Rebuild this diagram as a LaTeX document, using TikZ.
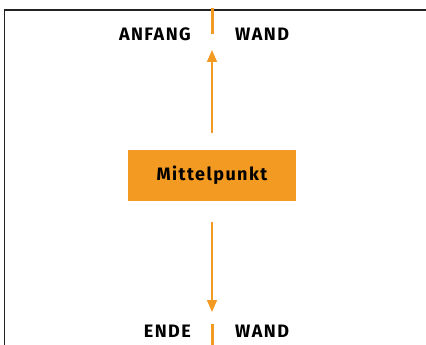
\documentclass[tikz,border=0pt]{standalone}
\usepackage{fontspec}
\setmainfont{Fira Sans}
\newfontfamily\lblfont[LetterSpace=8]{Fira Sans}
\usetikzlibrary{arrows.meta}
\definecolor{orng}{HTML}{F39A22}
\definecolor{frm}{HTML}{222222}
\begin{document}
\begin{tikzpicture}[x=1pt,y=-1pt,
  lbl/.style={font=\lblfont\bfseries\fontsize{18}{21}\selectfont, text=black, inner sep=0pt},
  box/.style={fill=orng, minimum width=168pt, minimum height=51pt, inner sep=0pt, font=\lblfont\bfseries\fontsize{18}{21}\selectfont},
  arr/.style={draw=orng, line width=1.4pt, -{Triangle[length=12pt,width=10pt]}},
  wall/.style={draw=orng, line width=3pt}]
\useasboundingbox (0,0) rectangle (426,345);
\draw[frm, line width=1.5pt] (4.5,345) -- (4.5,10) -- (426,10);
\node[box] (mid) at (212,175.5) {Mittelpunkt};
\coordinate (wt1) at (212,8);
\coordinate (wt2) at (212,34);
\coordinate (wb1) at (212,324);
\coordinate (wb2) at (212,345);
\coordinate (at) at (212,50);
\coordinate (ab) at (212,312);
\coordinate (as) at (212,133);
\coordinate (ae) at (212,222);
\draw[wall] (wt1) -- (wt2);
\draw[wall] (wb1) -- (wb2);
\draw[arr] (as) -- (at);
\draw[arr] (ae) -- (ab);
\node[lbl, anchor=east] (anf) at (191,34) {ANFANG};
\node[lbl, anchor=west] (w1) at (235,34) {WAND};
\node[lbl, anchor=east] (ende) at (191,331) {ENDE};
\node[lbl, anchor=west] (w2) at (235,331) {WAND};
\end{tikzpicture}
\end{document}
